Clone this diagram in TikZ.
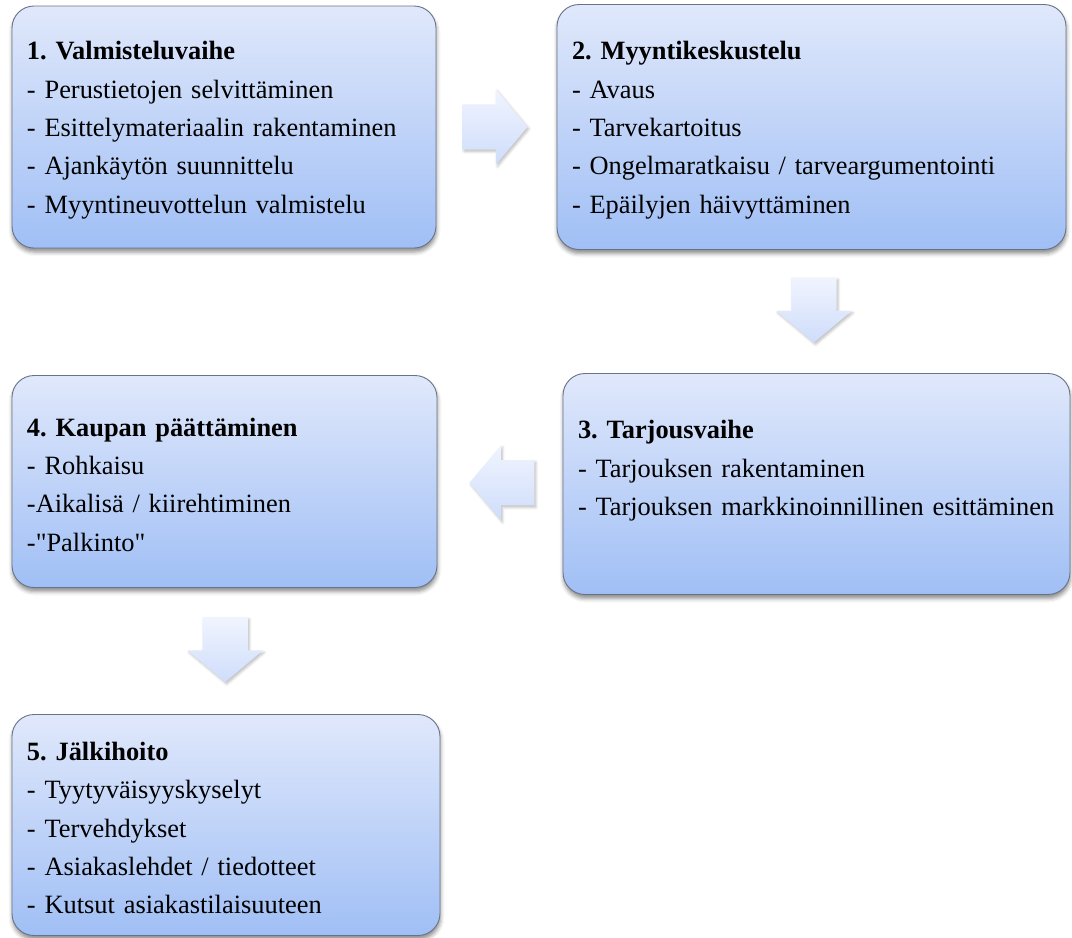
\documentclass[tikz,border=0pt]{standalone}
\usepackage{fontspec}
\setmainfont{Liberation Serif}
\usetikzlibrary{shapes.arrows,shadows.blur,calc}

\definecolor{boxtop}{RGB}{224,232,251}
\definecolor{boxbottom}{RGB}{160,191,245}
\definecolor{boxline}{RGB}{105,115,135}
\definecolor{arrtop}{RGB}{240,244,254}
\definecolor{arrbottom}{RGB}{207,221,251}

% straight double quote, not touched by the tex-text mapping
\newcommand{\straightquote}{\XeTeXglyph\XeTeXcharglyph"22\relax}

\tikzstyle{stage} = [rectangle, rounded corners=22pt,
draw=boxline, line width=0.9pt,
top color=boxtop, bottom color=boxbottom,
align=left,
inner xsep=15pt, inner ysep=0pt,
font={\fontsize{26.4}{38.3}\selectfont\frenchspacing},
execute at begin node={\rule{0pt}{24.5pt}},
blur shadow={shadow xshift=0.5pt, shadow yshift=-4pt, shadow blur radius=4pt, shadow opacity=45}]
\tikzstyle{flow} = [single arrow, single arrow head extend=15pt,
single arrow tip angle=100,
minimum height=65pt,
inner sep=22.5pt,
top color=arrtop, bottom color=arrbottom,
blur shadow={shadow xshift=1.5pt, shadow yshift=-2pt, shadow blur radius=2.5pt, shadow opacity=25}]

\begin{document}
\begin{tikzpicture}[x=1pt, y=-1pt, node distance=350pt]
\useasboundingbox (0,0) rectangle (1072,938);

\node (prep) [stage, text width=394pt, minimum height=242pt] at (224,127) {\textbf{1. Valmisteluvaihe}\\- Perustietojen selvittäminen\\- Esittelymateriaalin rakentaminen\\- Ajankäytön suunnittelu\\- Myyntineuvottelun valmistelu};
\node (talk) [stage, text width=479pt, minimum height=245pt, right of=prep, xshift=237.5pt] {\textbf{2. Myyntikeskustelu}\\- Avaus\\- Tarvekartoitus\\- Ongelmaratkaisu / tarveargumentointi\\- Epäilyjen häivyttäminen};
\node (offer) [stage, text width=477pt, minimum height=221pt, below of=talk, xshift=5pt, yshift=-7pt] {\textbf{3. Tarjousvaihe}\\- Tarjouksen rakentaminen\\- Tarjouksen markkinoinnillinen esittäminen\\\mbox{}};
\node (close) [stage, text width=395pt, minimum height=212pt, left of=offer, xshift=-242pt, yshift=2.5pt] {\textbf{4. Kaupan päättäminen}\\- Rohkaisu\\-Aikalisä / kiirehtiminen\\-\straightquote Palkinto\straightquote};
\node (after) [stage, text width=398pt, minimum height=221pt, below of=close, xshift=1.5pt, yshift=6.5pt] {\textbf{5. Jälkihoito}\\- Tyytyväisyyskyselyt\\- Tervehdykset\\- Asiakaslehdet / tiedotteet\\- Kutsut asiakastilaisuuteen};

\node (a12) [flow, xshift=-11pt] at ($(prep.east)!0.5!(talk.west)$) {};
\node (a23) [flow, shape border rotate=270, yshift=11pt] at ($(talk.south)!0.5!(offer.north)$) {};
\node (a34) [flow, shape border rotate=180, xshift=11.5pt] at ($(offer.west)!0.5!(close.east)$) {};
\node (a45) [flow, shape border rotate=270, yshift=11pt] at ($(close.south)!0.5!(after.north)$) {};
\end{tikzpicture}
\end{document}
